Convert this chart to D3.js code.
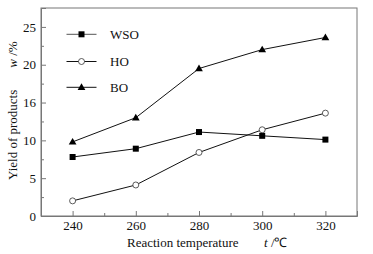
<!DOCTYPE html>
<html>
<head>
<meta charset="utf-8">
<script src="https://cdn.jsdelivr.net/npm/d3@7"></script>
<style>
  body { margin: 0; background: #fff; }
  svg text { font-family: "Liberation Serif", "Times New Roman", Times, serif; fill: #111; }
</style>
</head>
<body>
<div id="chart"></div>
<script>
const temps = [240, 260, 280, 300, 320];
const wso = [7.8, 8.9, 11.1, 10.6, 10.1];
const ho = [2.0, 4.1, 8.4, 11.4, 13.6];
const bo = [9.8, 13.0, 19.5, 22.0, 23.6];
const yTicks = [0, 5, 10, 15, 20, 25];
const yTickLabels = ["0", "5", "10", "16", "20", "25"];
const xTicks = [240, 260, 280, 300, 320];
const seriesNames = ["WSO", "HO", "BO"];

const width = 373, height = 254;
const margin = { top: 8, right: 16, bottom: 38, left: 41 };

const svg = d3.select("#chart").append("svg")
  .attr("width", width)
  .attr("height", height);

const x = d3.scaleLinear().domain([230, 330]).range([margin.left, width - margin.right]);
const y = d3.scaleLinear().domain([0, 27.5]).range([height - margin.bottom, margin.top]);

const axisColor = "#777";

// frame
svg.append("rect")
  .attr("x", margin.left)
  .attr("y", margin.top)
  .attr("width", width - margin.left - margin.right)
  .attr("height", height - margin.top - margin.bottom)
  .attr("fill", "none")
  .attr("stroke", axisColor)
  .attr("stroke-width", 1);

// x axis, ticks inward
svg.append("g")
  .attr("transform", `translate(0,${height - margin.bottom})`)
  .call(d3.axisBottom(x).tickValues(xTicks).tickSize(-5).tickPadding(5).tickFormat(d3.format("d")));
svg.append("g")
  .attr("transform", `translate(0,${height - margin.bottom})`)
  .call(d3.axisBottom(x).tickValues([250, 270, 290, 310]).tickSize(-3).tickFormat(""))
  .call(g => g.select(".domain").remove());

// y axis, ticks inward
svg.append("g")
  .attr("transform", `translate(${margin.left},0)`)
  .call(d3.axisLeft(y).tickValues(yTicks).tickSize(-5).tickPadding(5).tickFormat((d, i) => yTickLabels[i]));
svg.append("g")
  .attr("transform", `translate(${margin.left},0)`)
  .call(d3.axisLeft(y).tickValues([2.5, 7.5, 12.5, 17.5, 22.5]).tickSize(-3).tickFormat(""))
  .call(g => g.select(".domain").remove());

svg.selectAll("g").attr("font-family", null);
svg.selectAll(".domain").attr("stroke", axisColor);
svg.selectAll(".tick line").attr("stroke", axisColor);
svg.selectAll(".tick text")
  .attr("font-size", 13)
  .attr("fill", "#111");

// lines
const line = d3.line().x((d, i) => x(temps[i])).y(d => y(d));
const seriesData = [wso, ho, bo];
svg.selectAll(".series")
  .data(seriesData)
  .join("path")
  .attr("class", "series")
  .attr("d", line)
  .attr("fill", "none")
  .attr("stroke", "#111")
  .attr("stroke-width", 1);

function drawMarker(g, type, cx, cy) {
  if (type === 0) {
    g.append("rect").attr("x", cx - 3).attr("y", cy - 3).attr("width", 6).attr("height", 6).attr("fill", "#000");
  } else if (type === 1) {
    g.append("circle").attr("cx", cx).attr("cy", cy).attr("r", 3).attr("fill", "#fff").attr("stroke", "#333").attr("stroke-width", 0.8);
  } else {
    g.append("path").attr("d", d3.symbol(d3.symbolTriangle, 26)()).attr("transform", `translate(${cx},${cy + 0.5})`).attr("fill", "#000");
  }
}

const marks = svg.append("g");
seriesData.forEach((s, k) => {
  s.forEach((v, i) => drawMarker(marks, k, x(temps[i]), y(v)));
});

// legend
const legend = svg.append("g");
const legendY = [34.3, 61.5, 87.3];
seriesNames.forEach((name, k) => {
  legend.append("line")
    .attr("x1", 66.5).attr("x2", 96.5)
    .attr("y1", legendY[k]).attr("y2", legendY[k])
    .attr("stroke", k === 0 ? "#555" : "#111").attr("stroke-width", 1);
  drawMarker(legend, k, 81.5, legendY[k]);
  legend.append("text")
    .attr("x", 110).attr("y", legendY[k])
    .attr("dy", "0.35em")
    .attr("font-size", 13)
    .text(name);
});

// axis titles
svg.append("text")
  .attr("x", 127).attr("y", 247)
  .attr("font-size", 13)
  .text("Reaction temperature");
const tx = svg.append("text").attr("x", 264).attr("y", 247).attr("font-size", 13);
tx.append("tspan").attr("font-style", "italic").text("t");
tx.append("tspan").text(" /℃");

const yl = svg.append("text")
  .attr("transform", "translate(17,180) rotate(-90)")
  .attr("font-size", 13);
yl.append("tspan").text("Yield of products");
yl.append("tspan").attr("dx", 22).attr("font-style", "italic").text("w");
yl.append("tspan").text(" /%");
</script>
</body>
</html>
